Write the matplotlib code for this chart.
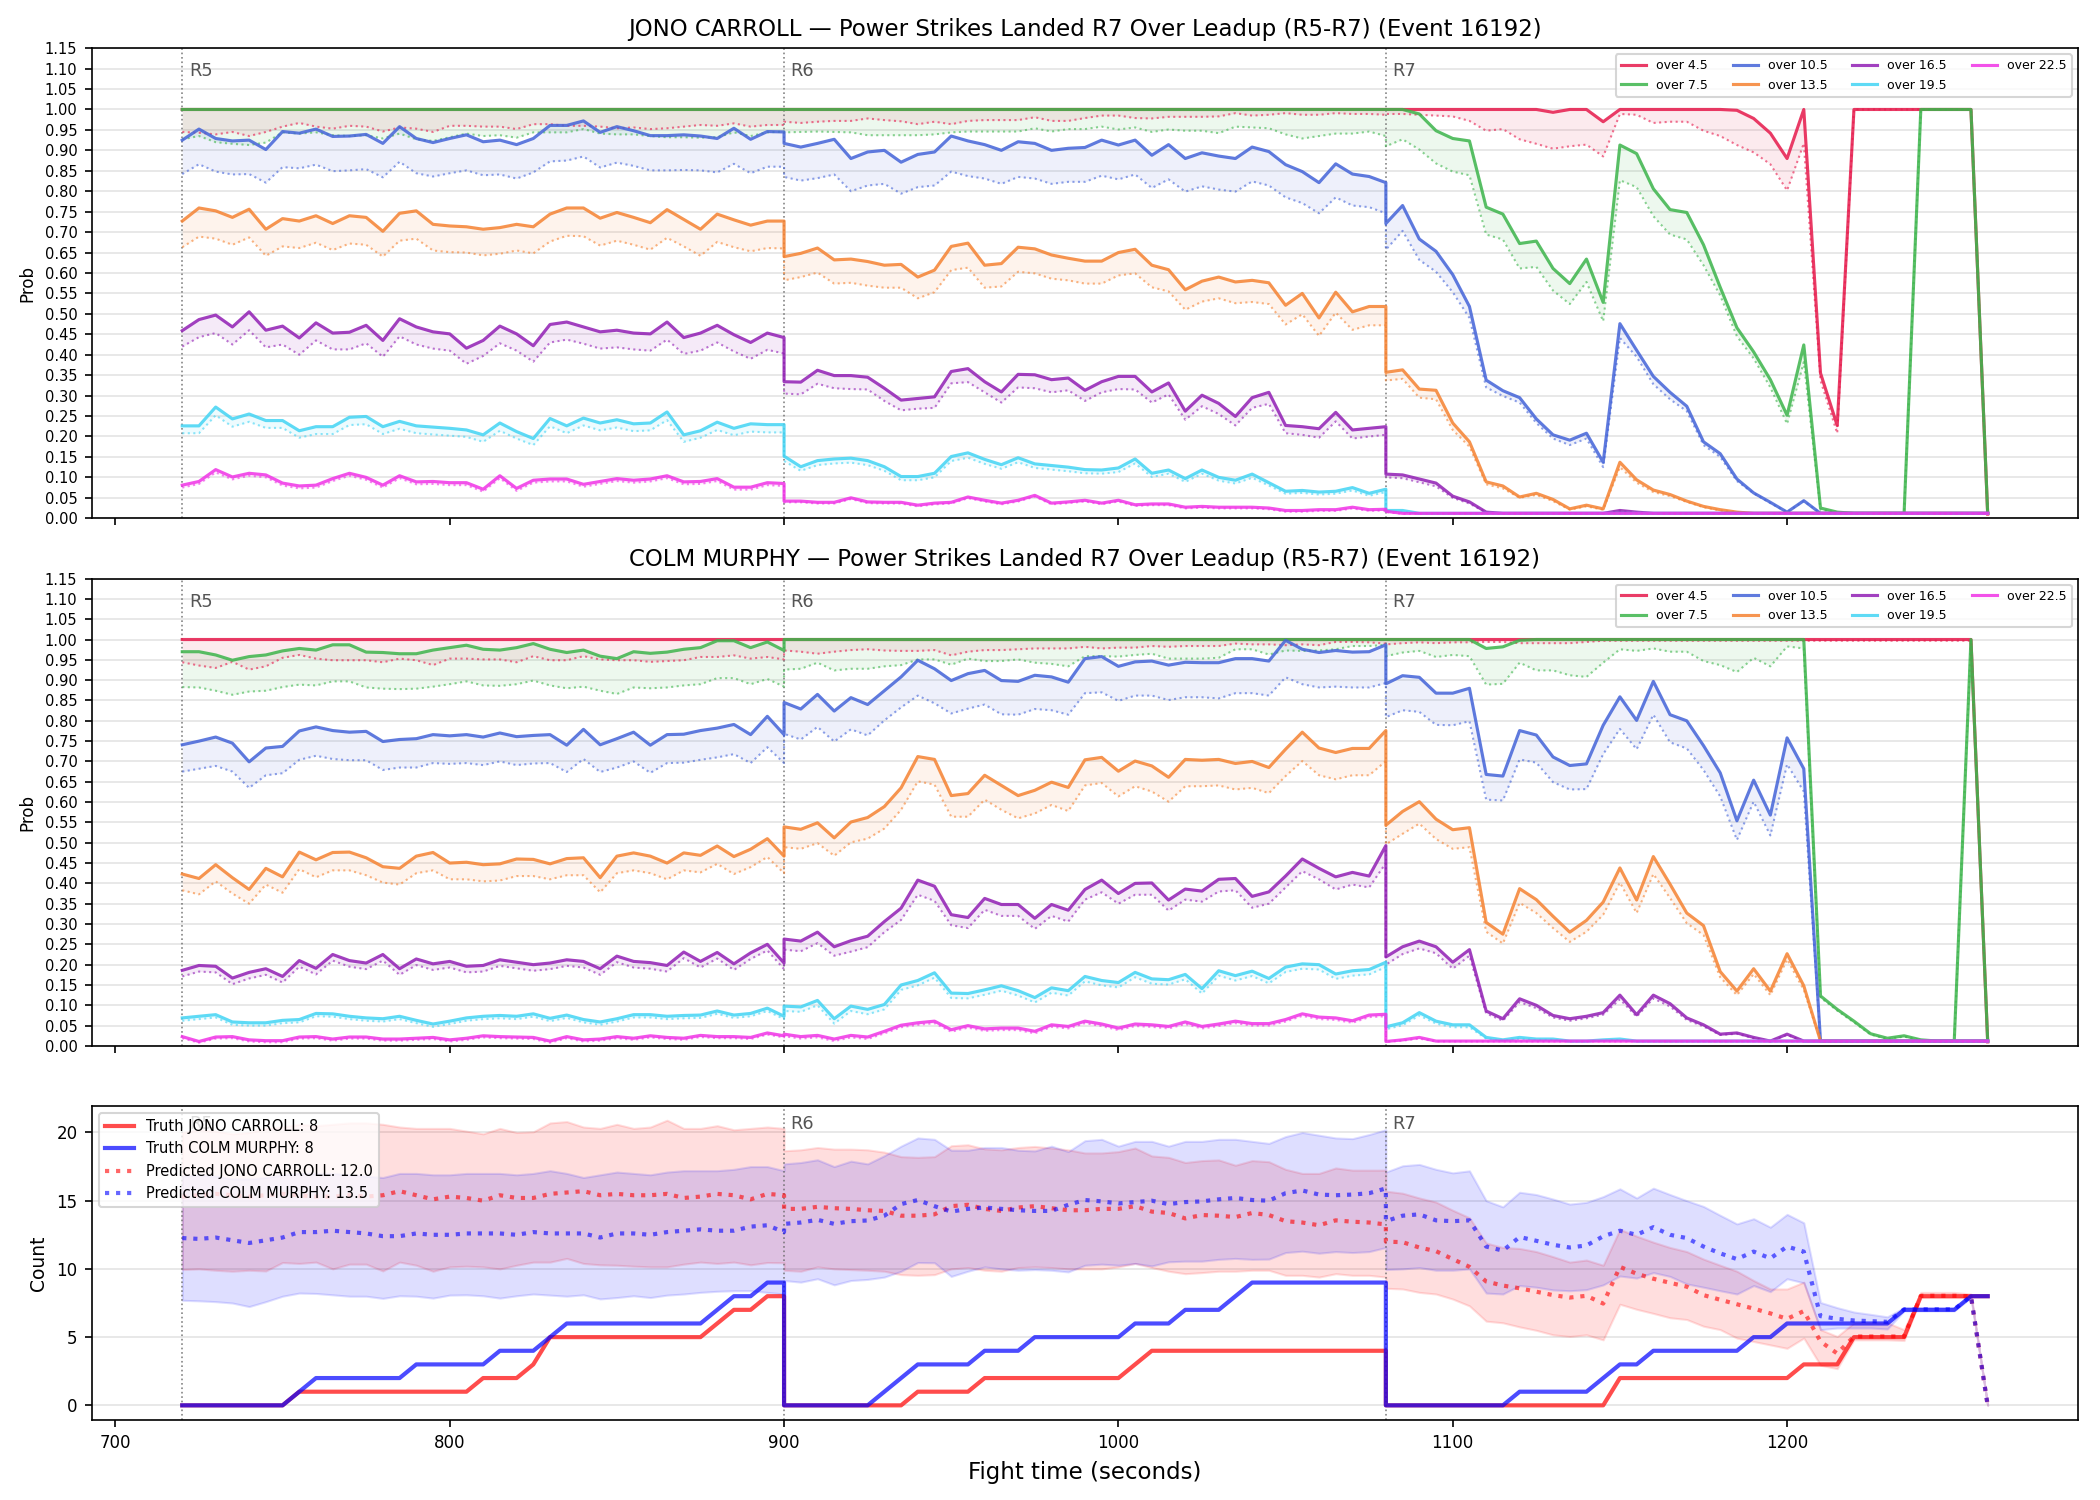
import numpy as np
import matplotlib
matplotlib.use("Agg")
import matplotlib.pyplot as plt

# ---------------- time axis ----------------
ROUND_STARTS = [720, 900, 1080]
ROUND_NAMES = ["R5", "R6", "R7"]
STEP = 5
N_PER_ROUND = 37

LINES = ["over 4.5", "over 7.5", "over 10.5", "over 13.5", "over 16.5", "over 19.5", "over 22.5"]
COLORS = ["#e6194b", "#3cb44b", "#4363d8", "#f58231", "#911eb4", "#42d4f4", "#f032e6"]

# ---------------- JONO CARROLL (solid = prob, _LO = dotted) ----------------
J45 = [1.0]*37 + [1.0]*37 + ([1.0]*10 + [0.993, 1.0, 1.0, 0.970] + [1.0]*7 +
       [0.998, 0.978, 0.942, 0.880, 1.0, 0.355, 0.227] + [1.0]*8 + [0.01])
J45_LO = ([0.945,0.943,0.939,0.945,0.935,0.945,0.958,0.967,0.958,0.953,0.960,0.958,0.946,0.956,0.953,0.945,0.960,0.960,0.958,0.958,0.952,0.964,0.964,0.960,0.960,0.958,0.954,0.956,0.952,0.954,0.958,0.962,0.960,0.966,0.958,0.962,0.962]
          + [0.970,0.967,0.970,0.972,0.972,0.978,0.974,0.971,0.964,0.970,0.964,0.972,0.974,0.974,0.974,0.981,0.972,0.972,0.979,0.985,0.985,0.979,0.978,0.982,0.982,0.982,0.983,0.991,0.985,0.987,0.991,0.987,0.987,0.991,0.989,0.989,0.987]
          + [0.989,0.989,0.987,0.985,0.983,0.972,0.948,0.952,0.927,0.916,0.904,0.910,0.914,0.885,0.989,0.987,0.967,0.970,0.970,0.948,0.935,0.913,0.895,0.866,0.802,0.917,0.337,0.208] + [1.0]*8 + [0.01])
J75 = [1.0]*37 + [1.0]*37 + [1.0,1.0,0.989,0.948,0.929,0.923,0.761,0.744,0.672,0.678,0.611,0.574,0.634,0.528,0.913,0.892,0.806,0.755,0.748,0.669,0.565,0.466,0.407,0.339,0.252,0.424,0.025,0.015,0.012,0.012,0.012,0.012,1.0,1.0,1.0,1.0,0.012]
J75_LO = ([0.927,0.935,0.920,0.916,0.913,0.919,0.944,0.941,0.944,0.937,0.935,0.937,0.929,0.941,0.927,0.923,0.932,0.941,0.935,0.937,0.931,0.944,0.944,0.944,0.952,0.941,0.939,0.939,0.935,0.932,0.932,0.931,0.932,0.944,0.935,0.944,0.946]
          + [0.944,0.945,0.946,0.945,0.944,0.937,0.937,0.937,0.937,0.939,0.944,0.946,0.946,0.946,0.946,0.954,0.946,0.952,0.952,0.958,0.951,0.956,0.945,0.951,0.948,0.948,0.942,0.958,0.956,0.954,0.939,0.929,0.935,0.941,0.941,0.946,0.935]
          + [0.910,0.927,0.902,0.868,0.848,0.839,0.694,0.682,0.611,0.615,0.557,0.524,0.578,0.482,0.827,0.810,0.739,0.694,0.682,0.619,0.545,0.445,0.391,0.320,0.231,0.382,0.021,0.014,0.012,0.012,0.012,0.012,1.0,1.0,1.0,1.0,0.012])
J105 = ([0.925,0.952,0.929,0.923,0.925,0.902,0.946,0.942,0.952,0.934,0.935,0.939,0.917,0.958,0.929,0.919,0.929,0.938,0.921,0.925,0.914,0.929,0.961,0.961,0.972,0.944,0.958,0.948,0.936,0.936,0.938,0.935,0.929,0.954,0.927,0.946,0.945]
        + [0.917,0.908,0.917,0.927,0.880,0.896,0.900,0.871,0.890,0.896,0.935,0.923,0.914,0.900,0.921,0.917,0.900,0.905,0.907,0.925,0.913,0.925,0.888,0.914,0.880,0.894,0.886,0.880,0.908,0.897,0.865,0.848,0.821,0.867,0.842,0.836,0.821]
        + [0.721,0.765,0.683,0.653,0.596,0.518,0.338,0.312,0.295,0.243,0.204,0.191,0.208,0.137,0.476,0.411,0.347,0.308,0.274,0.187,0.158,0.096,0.062,0.039,0.015,0.043] + [0.012]*11)
J105_LO = ([0.842,0.866,0.848,0.841,0.842,0.821,0.859,0.856,0.865,0.849,0.851,0.854,0.834,0.872,0.844,0.836,0.844,0.851,0.839,0.841,0.831,0.846,0.873,0.875,0.885,0.858,0.870,0.862,0.851,0.851,0.852,0.851,0.846,0.867,0.844,0.860,0.860]
           + [0.835,0.826,0.832,0.841,0.800,0.814,0.818,0.794,0.810,0.814,0.848,0.837,0.831,0.818,0.835,0.831,0.818,0.823,0.823,0.838,0.829,0.841,0.808,0.829,0.799,0.812,0.804,0.799,0.824,0.814,0.785,0.771,0.746,0.785,0.765,0.761,0.746]
           + [0.657,0.703,0.632,0.603,0.553,0.490,0.320,0.299,0.283,0.233,0.195,0.179,0.195,0.125,0.441,0.395,0.328,0.291,0.262,0.179,0.150,0.091,0.061,0.037,0.015,0.042] + [0.012]*11)
J135 = ([0.727,0.759,0.752,0.736,0.756,0.707,0.733,0.727,0.740,0.721,0.740,0.736,0.702,0.746,0.752,0.719,0.715,0.713,0.707,0.711,0.719,0.713,0.744,0.759,0.759,0.734,0.748,0.736,0.723,0.755,0.731,0.707,0.744,0.730,0.717,0.727,0.727]
        + [0.640,0.648,0.661,0.632,0.634,0.628,0.619,0.621,0.590,0.607,0.665,0.673,0.619,0.623,0.663,0.659,0.644,0.636,0.629,0.629,0.650,0.658,0.619,0.608,0.559,0.580,0.590,0.578,0.582,0.576,0.521,0.550,0.490,0.553,0.505,0.518,0.518]
        + [0.357,0.363,0.316,0.313,0.233,0.187,0.089,0.079,0.052,0.061,0.046,0.023,0.032,0.023,0.137,0.094,0.069,0.058,0.042,0.029,0.021,0.015] + [0.012]*15)
J135_LO = ([0.663,0.689,0.684,0.669,0.687,0.642,0.665,0.661,0.674,0.656,0.672,0.669,0.640,0.679,0.684,0.655,0.651,0.650,0.643,0.647,0.655,0.648,0.677,0.691,0.690,0.667,0.679,0.669,0.657,0.686,0.665,0.642,0.676,0.663,0.653,0.661,0.660]
           + [0.582,0.590,0.601,0.574,0.576,0.569,0.564,0.564,0.538,0.553,0.607,0.613,0.564,0.567,0.603,0.599,0.586,0.582,0.574,0.574,0.594,0.599,0.565,0.555,0.510,0.530,0.538,0.526,0.529,0.524,0.474,0.499,0.446,0.503,0.461,0.472,0.472]
           + [0.337,0.341,0.295,0.291,0.216,0.175,0.083,0.073,0.050,0.057,0.042,0.021,0.029,0.021,0.125,0.087,0.064,0.054,0.040,0.027,0.019,0.015] + [0.012]*15)
J165 = ([0.459,0.486,0.497,0.468,0.505,0.460,0.470,0.441,0.478,0.453,0.455,0.472,0.435,0.488,0.468,0.456,0.451,0.416,0.435,0.470,0.451,0.422,0.474,0.480,0.468,0.456,0.460,0.453,0.451,0.480,0.442,0.453,0.472,0.449,0.430,0.453,0.442]
        + [0.334,0.333,0.362,0.349,0.349,0.345,0.318,0.289,0.293,0.297,0.359,0.366,0.334,0.309,0.352,0.351,0.339,0.343,0.313,0.334,0.347,0.347,0.309,0.331,0.262,0.301,0.281,0.249,0.295,0.308,0.227,0.224,0.219,0.259,0.216,0.220,0.224]
        + [0.108,0.106,0.096,0.086,0.054,0.040,0.015] + [0.012]*7 + [0.019,0.015] + [0.012]*21)
J165_LO = ([0.420,0.443,0.453,0.425,0.460,0.418,0.425,0.400,0.435,0.413,0.413,0.428,0.395,0.445,0.425,0.415,0.410,0.378,0.397,0.428,0.410,0.383,0.430,0.437,0.427,0.415,0.418,0.413,0.410,0.437,0.402,0.410,0.430,0.408,0.390,0.412,0.403]
           + [0.305,0.303,0.329,0.318,0.316,0.315,0.287,0.264,0.268,0.270,0.330,0.333,0.308,0.283,0.320,0.318,0.308,0.313,0.287,0.308,0.316,0.315,0.283,0.303,0.241,0.274,0.255,0.227,0.270,0.280,0.208,0.204,0.197,0.237,0.195,0.200,0.204]
           + [0.100,0.098,0.088,0.078,0.050,0.036,0.014] + [0.012]*7 + [0.017,0.014] + [0.012]*21)
J195 = ([0.226,0.226,0.272,0.243,0.255,0.239,0.239,0.214,0.224,0.224,0.247,0.249,0.224,0.237,0.226,0.223,0.220,0.216,0.204,0.233,0.212,0.195,0.244,0.226,0.245,0.233,0.241,0.231,0.233,0.260,0.204,0.214,0.235,0.220,0.231,0.229,0.229]
        + [0.152,0.126,0.141,0.145,0.147,0.141,0.126,0.102,0.102,0.110,0.151,0.160,0.144,0.131,0.148,0.133,0.129,0.125,0.119,0.118,0.123,0.145,0.110,0.118,0.097,0.118,0.100,0.093,0.108,0.087,0.066,0.068,0.064,0.066,0.075,0.061,0.071]
        + [0.019,0.019] + [0.012]*35)
J195_LO = ([0.208,0.208,0.252,0.224,0.236,0.221,0.221,0.197,0.206,0.206,0.228,0.230,0.206,0.219,0.208,0.205,0.202,0.199,0.187,0.214,0.195,0.179,0.225,0.208,0.227,0.215,0.222,0.213,0.215,0.240,0.187,0.197,0.216,0.203,0.212,0.210,0.210]
           + [0.140,0.116,0.130,0.134,0.136,0.130,0.116,0.093,0.093,0.100,0.140,0.148,0.133,0.121,0.137,0.123,0.119,0.115,0.110,0.109,0.113,0.134,0.101,0.109,0.089,0.109,0.092,0.085,0.099,0.080,0.060,0.062,0.058,0.060,0.068,0.055,0.064]
           + [0.016,0.016] + [0.011]*35)
J225 = ([0.081,0.090,0.119,0.101,0.110,0.106,0.086,0.079,0.081,0.097,0.110,0.100,0.081,0.104,0.089,0.090,0.087,0.087,0.071,0.104,0.073,0.093,0.096,0.096,0.083,0.090,0.097,0.093,0.096,0.104,0.089,0.090,0.097,0.076,0.076,0.087,0.085]
        + [0.042,0.042,0.039,0.039,0.050,0.040,0.039,0.039,0.032,0.037,0.039,0.052,0.044,0.037,0.044,0.056,0.037,0.040,0.044,0.037,0.044,0.033,0.035,0.035,0.027,0.029,0.027,0.027,0.027,0.025,0.019,0.019,0.021,0.021,0.027,0.021,0.022]
        + [0.017] + [0.012]*36)
J225_LO = ([0.075,0.084,0.112,0.095,0.104,0.100,0.080,0.073,0.075,0.091,0.104,0.094,0.075,0.098,0.083,0.084,0.081,0.081,0.065,0.098,0.067,0.087,0.090,0.090,0.077,0.084,0.091,0.087,0.090,0.098,0.083,0.084,0.091,0.070,0.070,0.081,0.079]
           + [0.039,0.039,0.036,0.036,0.047,0.037,0.036,0.036,0.029,0.034,0.036,0.049,0.041,0.034,0.041,0.053,0.034,0.037,0.041,0.034,0.041,0.030,0.032,0.032,0.024,0.026,0.024,0.024,0.024,0.022,0.016,0.016,0.018,0.018,0.024,0.018,0.019]
           + [0.015] + [0.011]*36)

# ---------------- COLM MURPHY ----------------
C45 = [1.0]*37 + [1.0]*37 + [1.0]*36 + [0.01]
C45_LO = ([0.944,0.936,0.930,0.945,0.926,0.934,0.955,0.962,0.953,0.949,0.949,0.949,0.944,0.953,0.949,0.937,0.953,0.953,0.951,0.951,0.944,0.959,0.949,0.949,0.959,0.951,0.949,0.949,0.945,0.947,0.949,0.957,0.957,0.961,0.953,0.957,0.951]
          + [0.973,0.970,0.965,0.970,0.974,0.976,0.973,0.972,0.972,0.974,0.961,0.970,0.974,0.974,0.976,0.978,0.978,0.978,0.982,0.978,0.980,0.980,0.984,0.982,0.984,0.984,0.984,0.990,0.988,0.988,0.986,0.988,0.986,0.994,0.994,0.993,0.990]
          + [0.988,0.991,0.993,0.991,0.993,0.993,0.994,0.994,0.991,0.991,0.991,0.991,0.994] + [0.997]*23 + [0.01])
C75 = ([0.970,0.970,0.962,0.949,0.958,0.962,0.972,0.978,0.974,0.987,0.987,0.969,0.968,0.965,0.965,0.974,0.980,0.986,0.976,0.974,0.980,0.990,0.976,0.968,0.974,0.959,0.953,0.970,0.966,0.969,0.976,0.980,0.997,0.997,0.980,0.994,0.973]
       + [1.0]*37
       + [1.0]*6 + [0.978,0.982,0.998] + [1.0]*17 + [0.123,0.090,0.061,0.030,0.019,0.025,0.015,0.012,0.012,1.0,0.012])
C75_LO = ([0.883,0.882,0.874,0.864,0.872,0.874,0.883,0.889,0.887,0.897,0.897,0.882,0.879,0.878,0.879,0.884,0.890,0.897,0.887,0.886,0.890,0.899,0.887,0.880,0.884,0.874,0.866,0.882,0.880,0.882,0.887,0.890,0.905,0.905,0.890,0.903,0.884]
          + [0.926,0.928,0.943,0.924,0.928,0.928,0.934,0.937,0.951,0.951,0.938,0.953,0.947,0.947,0.951,0.943,0.940,0.934,0.959,0.959,0.958,0.962,0.965,0.953,0.953,0.953,0.955,0.976,0.976,0.963,0.973,0.972,0.973,0.976,0.984,0.984,0.987]
          + [0.959,0.968,0.972,0.957,0.962,0.959,0.889,0.891,0.943,0.924,0.924,0.912,0.908,0.943,0.976,0.972,0.978,0.970,0.970,0.947,0.937,0.920,0.955,0.934,0.983,0.978,0.119,0.087,0.058,0.028,0.017,0.023,0.014,0.011,0.011,1.0,0.011])
C105 = ([0.741,0.750,0.760,0.745,0.699,0.733,0.737,0.775,0.785,0.776,0.772,0.774,0.749,0.754,0.756,0.766,0.763,0.766,0.760,0.770,0.761,0.764,0.766,0.740,0.779,0.741,0.756,0.772,0.740,0.766,0.767,0.776,0.782,0.791,0.766,0.811,0.766]
        + [0.845,0.829,0.865,0.824,0.857,0.840,0.874,0.908,0.949,0.928,0.899,0.916,0.924,0.899,0.897,0.912,0.908,0.895,0.953,0.958,0.934,0.945,0.947,0.937,0.944,0.943,0.943,0.953,0.953,0.947,0.998,0.976,0.968,0.973,0.969,0.970,0.987]
        + [0.891,0.911,0.907,0.868,0.868,0.880,0.668,0.664,0.776,0.765,0.711,0.690,0.694,0.789,0.859,0.801,0.897,0.815,0.800,0.739,0.672,0.554,0.654,0.568,0.758,0.682] + [0.012]*11)
C105_LO = ([0.675,0.682,0.689,0.675,0.635,0.666,0.671,0.704,0.714,0.706,0.703,0.703,0.679,0.685,0.685,0.696,0.694,0.696,0.691,0.700,0.691,0.695,0.696,0.674,0.706,0.674,0.685,0.700,0.672,0.696,0.697,0.704,0.710,0.718,0.696,0.735,0.696]
           + [0.768,0.754,0.785,0.749,0.779,0.764,0.801,0.833,0.862,0.843,0.818,0.830,0.840,0.816,0.815,0.829,0.826,0.815,0.868,0.870,0.849,0.862,0.862,0.851,0.858,0.858,0.855,0.868,0.868,0.862,0.907,0.890,0.882,0.884,0.882,0.882,0.893]
           + [0.809,0.826,0.822,0.790,0.789,0.799,0.606,0.604,0.705,0.697,0.649,0.631,0.632,0.718,0.780,0.730,0.815,0.747,0.732,0.679,0.614,0.507,0.601,0.518,0.693,0.626] + [0.012]*11)
C135 = ([0.423,0.412,0.446,0.414,0.385,0.437,0.416,0.477,0.458,0.476,0.477,0.463,0.441,0.437,0.467,0.476,0.450,0.452,0.446,0.448,0.460,0.459,0.448,0.461,0.463,0.414,0.467,0.475,0.467,0.450,0.475,0.469,0.492,0.466,0.484,0.510,0.467]
        + [0.539,0.533,0.549,0.512,0.551,0.562,0.589,0.635,0.712,0.705,0.616,0.621,0.666,0.641,0.616,0.629,0.649,0.636,0.704,0.710,0.676,0.701,0.689,0.661,0.705,0.703,0.705,0.695,0.700,0.685,0.730,0.772,0.733,0.722,0.732,0.732,0.776]
        + [0.543,0.577,0.601,0.558,0.532,0.537,0.304,0.275,0.387,0.360,0.319,0.280,0.309,0.354,0.438,0.359,0.466,0.398,0.327,0.296,0.183,0.135,0.190,0.135,0.227,0.148] + [0.012]*11)
C135_LO = ([0.383,0.373,0.405,0.375,0.350,0.397,0.377,0.435,0.415,0.432,0.432,0.420,0.402,0.397,0.425,0.432,0.410,0.410,0.405,0.407,0.418,0.418,0.410,0.420,0.420,0.378,0.425,0.432,0.425,0.410,0.432,0.427,0.448,0.423,0.440,0.465,0.425]
           + [0.489,0.485,0.499,0.468,0.501,0.510,0.535,0.581,0.651,0.643,0.564,0.564,0.606,0.581,0.560,0.572,0.593,0.578,0.641,0.647,0.614,0.639,0.626,0.601,0.639,0.639,0.641,0.631,0.635,0.622,0.664,0.701,0.666,0.656,0.666,0.666,0.701]
           + [0.496,0.522,0.547,0.509,0.485,0.489,0.281,0.252,0.352,0.327,0.290,0.256,0.281,0.323,0.402,0.327,0.423,0.364,0.302,0.273,0.169,0.125,0.177,0.125,0.213,0.138] + [0.012]*11)
C165 = ([0.186,0.198,0.196,0.167,0.181,0.190,0.171,0.210,0.191,0.225,0.210,0.204,0.225,0.190,0.214,0.202,0.208,0.196,0.198,0.212,0.206,0.200,0.204,0.212,0.208,0.190,0.221,0.208,0.205,0.198,0.231,0.208,0.230,0.202,0.229,0.250,0.204]
        + [0.263,0.258,0.280,0.244,0.259,0.270,0.306,0.339,0.408,0.393,0.323,0.316,0.363,0.348,0.348,0.314,0.348,0.334,0.385,0.408,0.375,0.400,0.401,0.359,0.386,0.381,0.410,0.412,0.368,0.379,0.418,0.460,0.437,0.416,0.427,0.418,0.493]
        + [0.219,0.244,0.258,0.244,0.206,0.237,0.086,0.067,0.116,0.100,0.075,0.067,0.073,0.082,0.125,0.077,0.125,0.104,0.069,0.052,0.029,0.032,0.021,0.012,0.029] + [0.012]*12)
C165_LO = ([0.171,0.183,0.181,0.152,0.166,0.175,0.156,0.195,0.176,0.210,0.195,0.189,0.210,0.175,0.199,0.187,0.193,0.181,0.183,0.197,0.191,0.185,0.189,0.197,0.193,0.175,0.206,0.193,0.190,0.183,0.216,0.193,0.215,0.187,0.214,0.235,0.189]
           + [0.237,0.233,0.253,0.222,0.232,0.243,0.280,0.310,0.372,0.357,0.297,0.290,0.335,0.320,0.320,0.288,0.320,0.306,0.360,0.378,0.350,0.372,0.372,0.333,0.360,0.355,0.380,0.383,0.340,0.350,0.390,0.430,0.410,0.385,0.397,0.390,0.450]
           + [0.200,0.226,0.240,0.228,0.190,0.222,0.080,0.062,0.108,0.093,0.070,0.062,0.068,0.077,0.115,0.072,0.117,0.097,0.064,0.048,0.027,0.030,0.019,0.012,0.027] + [0.012]*12)
C195 = ([0.069,0.073,0.077,0.059,0.057,0.057,0.063,0.065,0.080,0.079,0.073,0.069,0.067,0.073,0.063,0.054,0.061,0.069,0.073,0.075,0.073,0.079,0.068,0.076,0.065,0.059,0.067,0.077,0.077,0.073,0.075,0.076,0.086,0.076,0.080,0.093,0.073]
        + [0.098,0.096,0.112,0.067,0.098,0.090,0.102,0.150,0.161,0.180,0.130,0.129,0.138,0.148,0.136,0.119,0.143,0.136,0.171,0.161,0.156,0.181,0.165,0.163,0.176,0.141,0.185,0.173,0.184,0.166,0.194,0.202,0.200,0.177,0.185,0.188,0.206]
        + [0.047,0.057,0.082,0.061,0.052,0.052,0.021,0.015,0.021,0.017,0.017,0.012,0.012,0.015,0.017] + [0.012]*22)
C195_LO = ([0.062,0.066,0.070,0.052,0.050,0.050,0.056,0.058,0.073,0.072,0.066,0.062,0.060,0.066,0.056,0.047,0.054,0.062,0.066,0.068,0.066,0.072,0.061,0.069,0.058,0.052,0.060,0.070,0.070,0.066,0.068,0.069,0.079,0.069,0.073,0.086,0.066]
           + [0.086,0.084,0.100,0.055,0.086,0.078,0.090,0.138,0.149,0.168,0.118,0.117,0.126,0.136,0.124,0.107,0.131,0.124,0.159,0.149,0.144,0.169,0.153,0.151,0.164,0.129,0.173,0.161,0.172,0.154,0.182,0.190,0.188,0.165,0.173,0.176,0.194]
           + [0.041,0.051,0.075,0.055,0.046,0.046,0.018,0.013,0.018,0.015,0.015,0.011,0.011,0.013,0.015] + [0.011]*22)
C225 = ([0.023,0.011,0.022,0.023,0.015,0.013,0.013,0.022,0.023,0.017,0.022,0.022,0.017,0.017,0.019,0.021,0.015,0.019,0.025,0.023,0.022,0.021,0.012,0.023,0.015,0.017,0.023,0.019,0.025,0.021,0.019,0.026,0.023,0.023,0.021,0.032,0.025]
        + [0.029,0.023,0.026,0.017,0.026,0.022,0.036,0.051,0.057,0.061,0.040,0.050,0.042,0.044,0.044,0.036,0.052,0.048,0.061,0.054,0.044,0.054,0.052,0.048,0.059,0.048,0.054,0.061,0.055,0.055,0.065,0.079,0.071,0.069,0.062,0.076,0.078]
        + [0.011,0.015,0.021] + [0.012]*34)
C225_LO = ([0.019,0.008,0.018,0.019,0.011,0.009,0.009,0.018,0.019,0.013,0.018,0.018,0.013,0.013,0.015,0.017,0.011,0.015,0.021,0.019,0.018,0.017,0.008,0.019,0.011,0.013,0.019,0.015,0.021,0.017,0.015,0.022,0.019,0.019,0.017,0.028,0.021]
           + [0.024,0.018,0.021,0.012,0.021,0.017,0.031,0.046,0.052,0.056,0.035,0.045,0.037,0.039,0.039,0.031,0.047,0.043,0.056,0.049,0.039,0.049,0.047,0.043,0.054,0.043,0.049,0.056,0.050,0.050,0.060,0.074,0.066,0.064,0.057,0.071,0.073]
           + [0.010,0.013,0.018] + [0.011]*34)

# ---------------- counts panel ----------------
TRUTH_J = ([0]*7 + [1]*11 + [2]*3 + [3] + [5]*10 + [6, 7, 7, 8, 8]
           + [0]*8 + [1]*4 + [2]*9 + [3] + [4]*15
           + [0]*14 + [2]*11 + [3]*3 + [5]*4 + [8]*5)
TRUTH_C = ([0]*7 + [1] + [2]*6 + [3]*5 + [4]*3 + [5] + [6]*9 + [7] + [8]*2 + [9]*2
           + [0]*6 + [1, 2] + [3]*4 + [4]*3 + [5]*6 + [6]*3 + [7]*3 + [8] + [9]*9
           + [0]*8 + [1]*5 + [2] + [3]*2 + [4]*6 + [5]*2 + [6]*7 + [7]*4 + [8]*2)
PRED_J = ([15.3,15.4,15.5,15.4,15.3,15.4,15.5,15.4,15.3,15.3,15.4,15.3,15.4,15.7,15.4,15.1,15.3,15.2,15.0,15.4,15.2,15.2,15.5,15.6,15.7,15.4,15.5,15.4,15.4,15.5,15.2,15.3,15.5,15.4,15.1,15.5,15.4]
          + [14.4,14.4,14.55,14.45,14.4,14.3,14.25,13.9,13.9,14.0,14.6,14.7,14.4,14.25,14.5,14.6,14.45,14.3,14.3,14.4,14.4,14.6,14.2,14.1,13.7,13.95,13.9,13.8,14.1,13.95,13.5,13.4,13.2,13.56,13.46,13.4,13.26]
          + [12.0,11.96,11.57,11.3,10.72,10.15,9.08,8.78,8.58,8.33,8.08,7.9,8.03,7.46,10.15,9.65,9.28,8.98,8.7,8.08,7.74,7.41,7.09,6.74,6.34,6.91,4.68,3.8,5.05,5.05,5.05,5.05,8.03,8.03,8.03,8.0,0.0])
PRED_C = ([12.26,12.2,12.3,12.1,11.9,12.1,12.3,12.7,12.7,12.8,12.7,12.6,12.4,12.4,12.6,12.5,12.5,12.6,12.6,12.6,12.5,12.7,12.6,12.6,12.6,12.3,12.6,12.6,12.5,12.7,12.8,12.9,12.8,12.8,13.1,13.2,12.7]
          + [13.3,13.4,13.6,13.3,13.5,13.55,13.9,14.75,15.05,14.6,14.2,14.4,14.5,14.4,14.3,14.25,14.25,14.7,15.05,14.95,14.8,14.9,15.0,14.75,14.9,14.95,15.1,15.2,15.05,15.0,15.55,15.75,15.45,15.4,15.45,15.55,15.9]
          + [13.5,13.9,14.0,13.56,13.5,13.56,11.64,11.34,12.34,12.06,11.77,11.57,11.72,12.39,12.8,12.5,13.06,12.5,12.26,11.64,11.14,10.72,11.27,10.77,11.64,11.27,6.54,6.34,6.22,6.17,6.12,7.04,7.04,7.04,7.04,8.0,0.0])
BAND_J_HI = ([20.0,20.2,20.1,19.9,20.0,20.3,20.4,20.6,20.5,20.6,20.7,20.7,20.6,20.4,20.3,20.3,20.3,20.1,19.9,20.3,20.0,20.05,20.7,20.8,20.4,20.3,20.6,20.3,20.4,20.9,20.3,20.3,20.5,20.2,20.3,20.4,20.3]
             + [18.66,18.73,18.9,18.78,18.78,18.73,18.56,18.23,18.18,18.23,19.03,19.1,18.8,18.73,18.9,18.98,18.86,18.73,18.5,18.5,18.6,18.86,18.28,18.18,17.8,17.94,17.99,17.6,17.94,17.86,17.3,17.0,17.0,17.4,17.24,17.24,17.24]
             + [15.7,15.55,15.2,14.9,14.3,13.75,11.9,11.57,11.5,11.27,10.9,10.5,10.65,10.27,12.9,12.4,11.96,11.57,11.27,10.72,10.27,9.83,9.15,8.53,8.53,9.03,5.55,5.05,6.05,6.05,6.05,5.55,8.28,8.28,8.28,8.16,0.0])
BAND_J_LO = ([9.95,10.0,9.9,9.83,9.9,9.85,10.47,10.4,10.5,10.0,10.35,10.35,9.85,10.5,10.27,9.83,10.15,10.2,10.15,10.0,10.27,10.5,10.5,10.77,10.4,10.3,10.27,10.2,10.15,10.15,10.35,10.5,10.4,10.5,10.3,10.47,10.45]
             + [9.9,9.83,10.15,10.0,9.95,9.9,9.83,9.58,9.53,9.58,10.0,10.1,9.9,9.83,10.1,10.15,10.1,10.0,10.0,10.0,10.15,10.4,10.1,9.83,9.65,9.73,9.83,9.83,9.9,9.9,9.53,9.53,9.4,9.65,9.53,9.53,9.4]
             + [8.58,8.53,8.28,8.16,7.79,7.29,6.17,6.05,5.75,5.5,5.17,5.05,5.17,4.8,7.41,7.04,6.74,6.42,6.29,5.8,5.55,4.93,4.68,4.43,4.18,4.93,2.94,2.69,4.8,4.8,4.8,4.75,7.9,7.9,7.9,7.9,0.0])
BAND_C_HI = ([16.8,16.9,16.8,16.6,16.6,16.7,16.9,17.0,17.0,17.0,16.9,16.8,16.7,17.0,17.0,16.9,16.9,17.0,17.0,17.0,16.9,17.0,17.2,17.0,16.7,16.9,17.1,17.0,16.9,17.1,17.2,17.2,17.2,17.3,17.5,17.5,17.2]
             + [17.7,17.8,18.0,17.5,17.9,17.7,18.3,19.0,19.6,19.5,18.7,18.7,18.9,18.9,18.7,18.65,19.0,18.6,19.4,19.5,19.0,19.35,19.35,19.0,19.35,19.35,19.5,19.5,19.35,19.2,19.7,20.0,19.8,19.6,19.55,19.85,20.2]
             + [17.1,17.56,17.66,17.3,17.04,17.19,15.0,14.55,15.62,15.45,15.12,14.75,14.88,15.3,15.87,15.2,15.92,15.45,15.0,14.58,13.93,13.3,13.68,13.06,14.0,13.38,7.54,7.16,6.84,6.67,6.49,7.16,7.16,7.16,7.16,8.08,0.0])
BAND_C_LO = ([7.7,7.66,7.6,7.5,7.24,7.6,8.0,8.23,8.2,8.1,8.0,8.0,7.84,8.03,8.0,7.86,8.08,8.1,8.03,7.86,8.03,8.16,8.08,8.0,8.1,7.8,7.9,8.03,7.9,8.08,8.16,8.28,8.36,8.4,8.4,8.28,8.16]
             + [9.15,9.03,9.28,8.83,9.15,9.23,9.4,9.83,10.47,10.45,9.45,9.83,10.15,10.0,9.9,9.95,9.9,9.78,10.27,10.35,10.27,10.4,10.22,10.52,10.57,10.57,10.7,10.77,10.7,10.72,11.2,11.3,11.15,11.27,11.2,11.27,11.57]
             + [9.95,10.0,10.1,9.9,9.9,10.0,8.23,8.16,8.78,8.66,8.46,8.4,8.48,8.83,9.48,9.33,9.73,9.45,8.9,8.66,8.4,8.16,8.78,8.33,9.28,8.98,5.55,5.67,5.67,5.67,5.6,6.92,6.92,6.92,6.92,7.9,0.0])

FIGHTER_J = "JONO CARROLL"
FIGHTER_C = "COLM MURPHY"
TITLE_TAIL = "Power Strikes Landed R7 Over Leadup (R5-R7) (Event 16192)"

# ---------------- drawing ----------------
T = np.concatenate([s + STEP * np.arange(N_PER_ROUND) for s in ROUND_STARTS])

fig = plt.figure(figsize=(14, 10), dpi=150)
ax1 = fig.add_axes([0.0438, 0.6545, 0.9457, 0.3134])
ax2 = fig.add_axes([0.0438, 0.3027, 0.9457, 0.3116], sharex=ax1)
ax3 = fig.add_axes([0.0438, 0.0536, 0.9457, 0.2091], sharex=ax1)


def prob_panel(ax, solids, lows, title):
    for name, col, s, lo in zip(LINES, COLORS, solids, lows):
        s = np.array(s, float)
        lo = np.array(lo, float)
        ax.fill_between(T, s, lo, color=col, alpha=0.09, linewidth=0)
        ax.plot(T, lo, ls=":", color=col, lw=1.0, alpha=0.6)
        ax.plot(T, s, color=col, lw=1.5, alpha=0.85, label=name)
    ax.set_ylim(0, 1.15)
    ax.set_yticks(np.arange(0, 1.151, 0.05))
    ax.set_yticklabels([f"{v:.2f}" for v in np.arange(0, 1.151, 0.05)])
    ax.set_ylabel("Prob", fontsize=8)
    ax.set_title(title, fontsize=11)
    ax.grid(axis="y", color="#dddddd", lw=0.8, alpha=0.8)
    ax.set_axisbelow(True)
    ax.tick_params(axis="y", labelsize=7)
    ax.tick_params(axis="x", labelbottom=False)
    ax.legend(loc="upper right", ncol=4, fontsize=6.0, framealpha=0.8)


def round_marks(ax):
    for s, n in zip(ROUND_STARTS, ROUND_NAMES):
        ax.axvline(s, color="#666666", ls=":", lw=0.8, alpha=0.8, zorder=1)
        ax.text(s + 2, 0.97, n, transform=ax.get_xaxis_transform(), va="top", ha="left",
                fontsize=8.5, color="#555555", zorder=1)


prob_panel(ax1, [J45, J75, J105, J135, J165, J195, J225],
           [J45_LO, J75_LO, J105_LO, J135_LO, J165_LO, J195_LO, J225_LO],
           f"{FIGHTER_J} \u2014 {TITLE_TAIL}")
prob_panel(ax2, [C45, C75, C105, C135, C165, C195, C225],
           [C45_LO, C75_LO, C105_LO, C135_LO, C165_LO, C195_LO, C225_LO],
           f"{FIGHTER_C} \u2014 {TITLE_TAIL}")

ax3.fill_between(T, BAND_J_LO, BAND_J_HI, color="red", alpha=0.13, linewidth=1)
ax3.fill_between(T, BAND_C_LO, BAND_C_HI, color="blue", alpha=0.13, linewidth=1)
ax3.plot(T, TRUTH_J, color="red", lw=2, alpha=0.7, label=f"Truth {FIGHTER_J}: {TRUTH_J[-1]}")
ax3.plot(T, TRUTH_C, color="blue", lw=2, alpha=0.7, label=f"Truth {FIGHTER_C}: {TRUTH_C[-1]}")
ax3.plot(T, PRED_J, color="red", lw=2, ls=":", alpha=0.6,
         label=f"Predicted {FIGHTER_J}: {PRED_J[2*N_PER_ROUND]:.1f}")
ax3.plot(T, PRED_C, color="blue", lw=2, ls=":", alpha=0.6,
         label=f"Predicted {FIGHTER_C}: {PRED_C[2*N_PER_ROUND]:.1f}")
ax3.set_ylabel("Count", fontsize=9)
ax3.set_xlabel("Fight time (seconds)", fontsize=11)
ax3.grid(axis="y", color="#dddddd", lw=0.8, alpha=0.8)
ax3.set_axisbelow(True)
ax3.tick_params(labelsize=8)
leg = ax3.legend(loc="upper left", fontsize=7, framealpha=0.8)
leg.set_zorder(5)

for ax in (ax1, ax2, ax3):
    round_marks(ax)

ax1.set_xticks([700, 800, 900, 1000, 1100, 1200])

fig.savefig("out.png", dpi=150)
